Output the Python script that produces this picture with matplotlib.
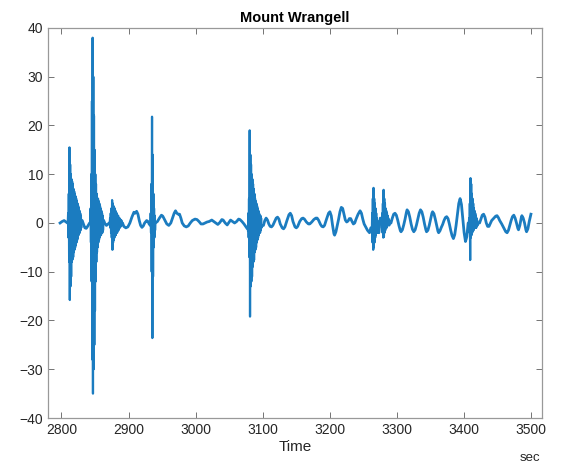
import numpy as np
import matplotlib
matplotlib.use("Agg")
from matplotlib import pyplot as plt

plt.rcParams['font.family'] = ['Liberation Sans', 'DejaVu Sans']

# slow background wiggle (time in sec, amplitude)
bg_t = [2798, 2801, 2804, 2807, 2809,
        2831, 2833, 2835, 2837, 2839, 2842,
        2863, 2865, 2867, 2869, 2871,
        2891, 2893, 2896, 2899, 2902, 2905, 2908, 2910, 2912, 2914, 2916, 2918,
        2920, 2922, 2924, 2927, 2929, 2931,
        2940, 2943, 2946, 2949, 2951, 2954, 2957, 2960, 2963, 2966, 2968, 2970,
        2972, 2974, 2976, 2978, 2980, 2983, 2986, 2989, 2992, 2995, 2999, 3002,
        3005, 3008, 3011, 3014, 3017, 3020, 3024, 3027, 3030, 3033, 3036, 3039,
        3041, 3044, 3047, 3050, 3052, 3055, 3058, 3061, 3064, 3066, 3069, 3072,
        3075, 3077,
        3101, 3103, 3105, 3107, 3109, 3111, 3113, 3115, 3118, 3120, 3122, 3124,
        3126, 3129, 3131, 3133, 3136, 3139, 3141, 3143, 3145, 3148, 3150, 3152,
        3155, 3158, 3160, 3162, 3165, 3168, 3170, 3173, 3176, 3179, 3181, 3183,
        3186, 3188, 3190, 3192, 3195, 3198, 3200, 3202, 3204, 3206, 3207, 3209,
        3211, 3213, 3215, 3217, 3219, 3221, 3223, 3225, 3227, 3229, 3231, 3233,
        3235, 3237, 3239, 3242, 3245, 3247, 3249, 3251, 3254, 3256, 3259, 3261,
        3273, 3275,
        3291, 3293, 3295, 3297, 3299, 3301, 3303, 3305, 3306, 3308, 3310, 3312,
        3314, 3315, 3317, 3319, 3321, 3323, 3325, 3327, 3329, 3331, 3333, 3335,
        3337, 3339, 3341, 3343, 3344, 3346, 3348, 3350, 3352, 3353, 3355, 3357,
        3359, 3361, 3362, 3364, 3366, 3368, 3370, 3372, 3374, 3376, 3378, 3380,
        3382, 3384, 3386, 3388, 3390, 3392, 3394, 3396, 3398, 3400, 3402, 3404,
        3406,
        3423, 3425, 3427, 3429, 3431, 3433, 3435, 3437, 3439, 3441, 3443, 3445,
        3447, 3449, 3451, 3453, 3456, 3459, 3462, 3464, 3466, 3468, 3470, 3472,
        3474, 3476, 3478, 3480, 3481, 3483, 3485, 3486, 3488, 3490, 3492, 3493,
        3495, 3497, 3499.5]
bg_y = [0, 0.3, 0.5, 0.2, 0,
        0.5, -0.3, -1, -1.1, -0.7, 0,
        0.5, -0.2, -0.5, -0.3, 0,
        0, -0.7, -1, -0.8, 0, 1.2, 2.2, 2, 2.4, 1.8, 0.5, -0.5,
        -0.9, -0.6, 0, 0.5, 0.3, -0.3,
        0, 0.3, 1, 1.6, 1.4, 0.6, -0.2, -0.5, 0, 1.2, 2, 2.5,
        2, 1.8, 1.8, 1, 0, -0.6, -0.8, -0.6, 0, 0.5, 0.8, 0.7,
        0.3, -0.2, -0.2, 0, 0.2, 0.3, 0.6, 0.3, 0, -0.3, 0.1, 0.7,
        0.6, 0, -0.4, 0.2, 0.6, 0.3, 0, 0.3, 0.8, 0.7, 0.3, -0.2,
        -0.8, -1.2,
        -0.5, 0.5, 1.0, 0.6, -0.2, -0.7, -0.8, -0.5, 0.4, 1.0, 1.2, 0.8,
        -0.2, -1.0, -1.2, -0.8, 0.5, 1.7, 2.0, 1.5, 0.3, -0.8, -1.0, -0.7,
        0.3, 0.9, 1.0, 0.8, 0.2, -0.2, -0.2, 0.2, 0.7, 1.0, 1.0, 0.6,
        -0.3, -0.7, -0.8, -0.5, 0.8, 2.0, 2.3, 1.5, -0.5, -2.2, -2.5, -1.8,
        -0.5, 0.8, 2.3, 3.2, 3.0, 1.8, 0.6, 0.2, 0.4, 0.9, 0.9, 0.3,
        -0.2, 0, 0.8, 1.8, 2.5, 2.0, 0.8, -0.2, -1.0, -1.5, -2.0, -1,
        -2, 1,
        0, 1.0, 1.8, 2.0, 1.6, 0.6, -0.6, -1.6, -1.8, -1.4, -0.4, 0.8,
        2.2, 2.7, 2.3, 1.2, -0.2, -1.3, -1.8, -1.4, -0.4, 0.8, 2.0, 2.7,
        2.3, 1.2, -0.2, -1.4, -1.8, -1.5, -0.5, 0.8, 2.0, 2.3, 1.9, 0.8,
        -0.5, -1.7, -2.0, -1.6, -0.9, -0.3, 0.5, 1.1, 1.3, 0.9, -0.2, -1.5,
        -2.6, -3.2, -2.4, -0.5, 1.8, 4.0, 5.0, 3.8, 1.0, -2.0, -3.8, -2.8,
        0,
        0, 0.8, 1.6, 1.8, 1.2, 0, -0.7, -0.7, -0.1, 0.5, 0.8, 1.1,
        1.4, 1.5, 1.1, 0.5, -0.2, -1.0, -1.8, -2.0, -1.5, -0.5, 0.5, 1.3,
        1.6, 1.0, 0, -1.1, -1.4, -0.5, 1.0, 1.5, 1.0, 0, -1.4, -1.8,
        -1.2, 0.3, 1.8]

# high-frequency bursts: start time, sample step, alternating extremes
burst_t0 = [2809.5, 2843, 2872, 2932.5, 3078, 3262, 3277, 3407]
burst_dt = [0.5, 0.5, 0.5, 0.5, 0.5, 0.5, 0.5, 0.5]
burst_y = [
    [0, 2, -3, 6, -8, 15.5, -15.8, 12, -13, 10, -11, 9, -8, 8.5, -7.5, 8, -7,
     7, -6, 6.5, -5.5, 6, -5, 5.5, -4.5, 5, -4, 4.5, -3.5, 4, -3, 3.5, -2.5,
     3, -2, 2.5, -2, 2, -1.5, 1.5, -1, 0.5],
    [0, 3, -4, 10, -12, 25, -28, 38, -35, 30, -30, 22, -25, 15, -18, 10, -12,
     8, -8, 6, -6, 5, -5, 5, -4, 4.5, -3.5, 4, -3, 3.5, -2.5, 3, -2.5,
     2.5, -2, 2, -2, 1.5, -1.5, 0.5],
    [0, 1, -1, 2, -2, 3, -3, 4.7, -5.5, 4, -4, 3.5, -3.5, 3, -3, 3, -2.5,
     2.5, -2.5, 2, -2, 2, -2, 1.5, -1.5, 1.5, -1.5, 1, -1, 1, -1, 0.8, -0.8,
     0.5, -0.5, 0.5, -0.5, 0],
    [-0.5, 2, -2, 8, -10, 21.8, -23.6, 14, -11, 6, -5, 3, -3, 1.5, -1.5, 0],
    [-1.5, 2, -3, 5, -7, 19, -19.2, 14, -13, 12, -12, 10, -11, 9, -9, 8, -8,
     7, -7.6, 6, -6, 5, -5.5, 4.5, -5, 4, -4, 3.5, -3.5, 3, -3, 2.5, -2.5,
     2, -2, 1.5, -2, 1.5, -1.5, 1, -1, -0.5],
    [-1, -2, 2, -4, 5, -5.5, 7.2, -5, 5, -4, 4, -3, 3, -2.5, 2, -2,
     1, -2, 0.5, -1.5, -2],
    [1, -1, 2, -2, 4, -3, 6.8, -2.8, 5, -2, 4, -1.5, 3, -1, 2.5, -1,
     2, -0.5, 1.5, -0.5, 1, 0, 0.5, -0.5, 0.5, 0, 0],
    [0, 1, -2, 4, -7.6, 9.2, -3, 8, -2.5, 6, -2, 5, -1.5, 4, -1.5, 3, -1,
     2.5, -1, 2, -1, 1.5, -1, 1, -0.5, 0.5, -0.5, 0, 0, 0],
]

xticks = [2800, 2900, 3000, 3100, 3200, 3300, 3400, 3500]
yticks = [-40, -30, -20, -10, 0, 10, 20, 30, 40]

fig = plt.figure(figsize=(5.62, 4.66), dpi=100)
ax = fig.add_axes([0.0854, 0.103, 0.879, 0.837])

col = "#1b7cc0"
ax.plot(bg_t, bg_y, color=col, lw=2.0, solid_joinstyle="round")
for t0, dt, ys in zip(burst_t0, burst_dt, burst_y):
    tt = t0 + dt * np.arange(len(ys))
    ax.plot(tt, ys, color=col, lw=1.6)

ax.set_xlim(2780, 3516)
ax.set_ylim(-40, 40)
ax.set_xticks(xticks)
ax.set_yticks(yticks)
ax.tick_params(direction="in", length=4, width=0.7, color="0.45",
               labelsize=10, labelcolor="#262626", top=True, right=True)
for s in ax.spines.values():
    s.set_color("0.6")
    s.set_linewidth(0.9)

ax.set_title("Mount Wrangell", fontsize=10.5, fontweight="bold", pad=4)
ax.set_xlabel("Time", fontsize=11, labelpad=2, color="#262626")
fig.text(530 / 562, 1 - 458 / 466, "sec", fontsize=9.5, ha="center",
         va="center", color="#262626")

fig.savefig("out.png", dpi=100)
